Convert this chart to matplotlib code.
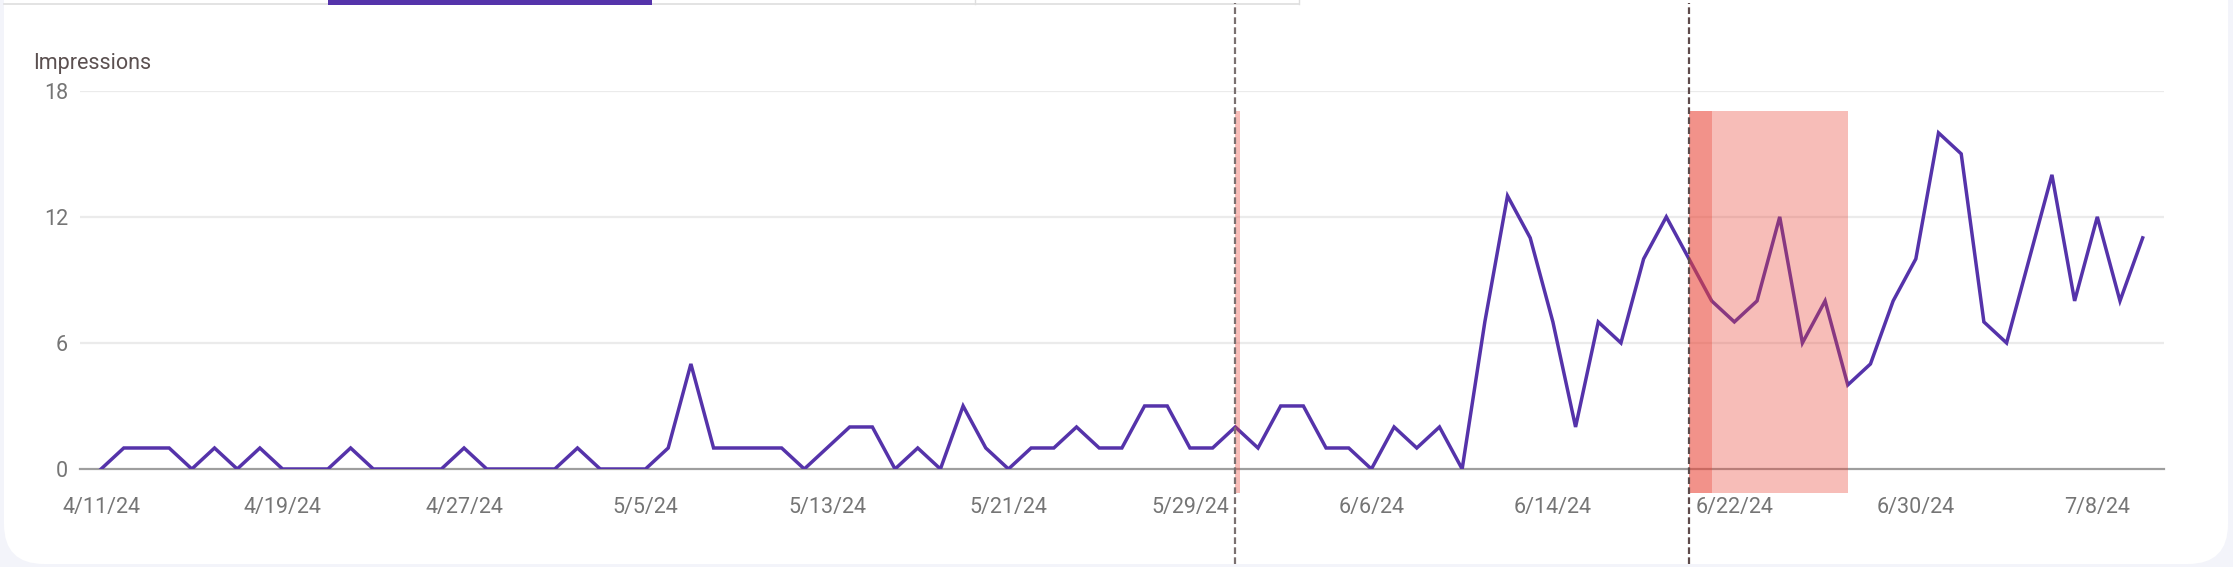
import matplotlib
matplotlib.use("Agg")
import matplotlib.pyplot as plt
import matplotlib.dates as mdates
from matplotlib.patches import FancyBboxPatch, Rectangle
from matplotlib.transforms import IdentityTransform
import pandas as pd

# daily impressions, 4/11/24 .. 7/10/24
start = "2024-04-11"
impressions = [0, 1, 1, 1, 0, 1, 0, 1, 0, 0,
               0, 1, 0, 0, 0, 0, 1, 0, 0, 0,
               0, 1, 0, 0, 0, 1, 5, 1, 1, 1,
               1, 0, 1, 2, 2, 0, 1, 0, 3, 1,
               0, 1, 1, 2, 1, 1, 3, 3, 1, 1,
               2, 1, 3, 3, 1, 1, 0, 2, 1, 2,
               0, 7, 13, 11, 7, 2, 7, 6, 10, 12,
               10, 8, 7, 8, 12, 6, 8, 4, 5, 8,
               10, 16, 15, 7, 6, 10, 14, 8, 12, 8,
               11]
dates = pd.date_range(start, periods=len(impressions), freq="D")
tick_dates = pd.date_range(start, "2024-07-08", freq="8D")
y_ticks = [0, 6, 12, 18]

# annotation markers and highlighted windows
marker_dates = [pd.Timestamp("2024-05-31"), pd.Timestamp("2024-06-20")]
marker_colors = ["#7a7070", "#5d4b4b"]
spans = [("2024-05-31", "2024-05-31 05:00"),
         ("2024-06-20", "2024-06-21"),
         ("2024-06-20", "2024-06-27")]

W, H = 2233, 567
fig = plt.figure(figsize=(W / 100, H / 100), dpi=100)
fig.patch.set_facecolor("#f3f4fa")
plt.rcParams["font.family"] = ["Roboto", "DejaVu Sans"]

# white card
card = FancyBboxPatch((4, 3), 2224, 700, boxstyle="round,pad=0,rounding_size=40",
                      transform=IdentityTransform(), facecolor="white",
                      edgecolor="none", zorder=-5)
fig.patches.append(card)

# tab strip at the top
def px_line(x0, y0, x1, y1, color, lw):
    fig.add_artist(plt.Line2D([x0, x1], [H - y0, H - y1], transform=IdentityTransform(),
                              color=color, lw=lw, zorder=-4))

px_line(4, 4, 1299, 4, "#dedede", 1.2)
px_line(975, 0, 975, 4, "#dedede", 1.0)
px_line(1299, 0, 1299, 4, "#dedede", 1.0)
fig.patches.append(Rectangle((328, H - 5), 324, 6, transform=IdentityTransform(),
                             facecolor="#5533aa", edgecolor="none", zorder=-3))

ax_left, ax_right = 80 / W, 2164 / W
ax_bottom, ax_top = (H - 469) / H, (H - 90.8) / H
ax = fig.add_axes([ax_left, ax_bottom, ax_right - ax_left, ax_top - ax_bottom])
ax.set_facecolor("none")
ax.set_zorder(2)

x0 = mdates.date2num(dates[0])
ax.set_xlim(x0 - 0.93, mdates.date2num(dates[-1]) + 0.94)
ax.set_ylim(0, 18)

for s in ax.spines.values():
    s.set_visible(False)

for yv in y_ticks[1:]:
    ax.axhline(yv, color="#ebebeb", lw=1.6, zorder=1)
ax.axhline(0, color="#9e9e9e", lw=1.6, zorder=1, clip_on=False)

ax.plot(dates, impressions, color="#5533aa", lw=2.5, zorder=3, solid_joinstyle="miter")

ax.set_yticks(y_ticks)
ax.set_yticklabels([str(v) for v in y_ticks])
ax.set_xticks(tick_dates)
ax.set_xticklabels([f"{d.month}/{d.day}/{d.strftime('%y')}" for d in tick_dates])
ax.tick_params(axis="both", length=0, labelsize=15.5, labelcolor="#757575")
ax.tick_params(axis="y", pad=8.5)
ax.tick_params(axis="x", pad=20)

# highlight bands (extend slightly past the plot area)
for a, b in spans:
    xa, xb = mdates.date2num(pd.Timestamp(a)), mdates.date2num(pd.Timestamp(b))
    ax.add_patch(Rectangle((xa, -1.12), xb - xa, 18.15, facecolor="#ea4335",
                           alpha=0.35, edgecolor="none", zorder=4, clip_on=False))

for d, c in zip(marker_dates, marker_colors):
    ax.axvline(d, ymin=-0.251, ymax=1.232, color=c, lw=1.6, ls=(0, (3, 1.5)),
               zorder=5, clip_on=False)

fig.text(33 / W, (H - 68.5) / H, "Impressions", fontsize=15.5, color="#5b5050",
         va="baseline", ha="left")

fig.savefig("out.png", dpi=100, facecolor=fig.get_facecolor())
